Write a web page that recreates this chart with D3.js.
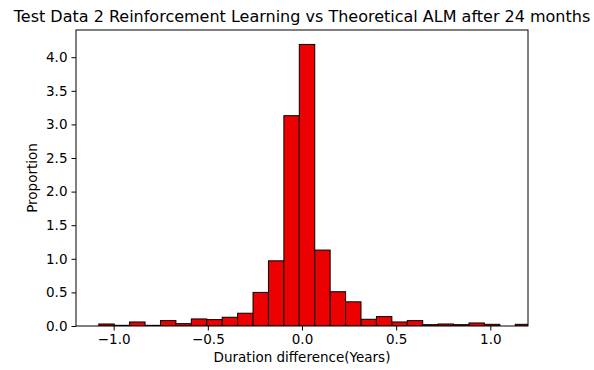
<!DOCTYPE html>
<html>
<head>
<meta charset="utf-8">
<script src="https://cdn.jsdelivr.net/npm/d3@7"></script>
<style>
  body { margin: 0; background: #fff; }
  svg { font-family: "DejaVu Sans", sans-serif; }
</style>
</head>
<body>
<div id="chart"></div>
<script>
// histogram bins: left edge of the first bin, bin width, proportion per bin
var binStart = -1.079;
var binWidth = 0.0819;
var proportions = [0.03, 0.01, 0.06, 0.01, 0.08, 0.035, 0.105, 0.095, 0.13, 0.19,
                   0.50, 0.97, 3.13, 4.19, 1.13, 0.51, 0.36, 0.10, 0.14, 0.06,
                   0.08, 0.02, 0.03, 0.02, 0.045, 0.025, 0.0, 0.025];
var xTicks = [-1.0, -0.5, 0.0, 0.5, 1.0];
var yTicks = [0, 0.5, 1.0, 1.5, 2.0, 2.5, 3.0, 3.5, 4.0];

var bins = proportions.map(function(p, i) {
    return { x0: binStart + i * binWidth, x1: binStart + (i + 1) * binWidth, value: p };
});

var width = 594, height = 370;
var margin = { top: 30, right: 66, bottom: 44, left: 76 };

var svg = d3.select('#chart')
    .append('svg')
    .attr('width', width)
    .attr('height', height);

var x = d3.scaleLinear()
    .domain([-1.2, 1.2])
    .range([margin.left, width - margin.right]);

var y = d3.scaleLinear()
    .domain([0, 4.405])
    .range([height - margin.bottom, margin.top]);

var fmt = function(d) { return d3.format('.1f')(d).replace('-', '\u2212'); };

svg.append('clipPath')
    .attr('id', 'plot-clip')
    .append('rect')
    .attr('x', margin.left)
    .attr('y', margin.top)
    .attr('width', width - margin.left - margin.right)
    .attr('height', height - margin.top - margin.bottom);

svg.append('g')
    .attr('clip-path', 'url(#plot-clip)')
    .selectAll('.bar')
    .data(bins)
    .enter()
    .append('rect')
    .classed('bar', true)
    .attr('x', function(d) { return x(d.x0); })
    .attr('y', function(d) { return y(d.value); })
    .attr('width', function(d) { return x(d.x1) - x(d.x0); })
    .attr('height', function(d) { return y(0) - y(d.value); })
    .attr('fill', '#ec0000')
    .attr('stroke', '#000')
    .attr('stroke-width', 1);

// axes
var xAxis = d3.axisBottom(x)
    .tickValues(xTicks)
    .tickFormat(fmt)
    .tickSizeOuter(0)
    .tickSize(4.5)
    .tickPadding(4);

var yAxis = d3.axisLeft(y)
    .tickValues(yTicks)
    .tickFormat(fmt)
    .tickSizeOuter(0)
    .tickSize(4.5)
    .tickPadding(4);

var gx = svg.append('g')
    .attr('transform', 'translate(0,' + (height - margin.bottom) + ')')
    .call(xAxis);

var gy = svg.append('g')
    .attr('transform', 'translate(' + margin.left + ',0)')
    .call(yAxis);

[gx, gy].forEach(function(g) {
    g.select('.domain').remove();
    g.selectAll('text').attr('font-size', 13.5).attr('fill', '#000')
        .attr('font-family', '"DejaVu Sans", sans-serif');
    g.selectAll('line').attr('stroke', '#000');
});

// frame
svg.append('rect')
    .attr('x', margin.left)
    .attr('y', margin.top)
    .attr('width', width - margin.left - margin.right)
    .attr('height', height - margin.top - margin.bottom)
    .attr('fill', 'none')
    .attr('stroke', '#000')
    .attr('stroke-width', 1);

svg.append('text')
    .attr('x', (margin.left + width - margin.right) / 2)
    .attr('y', 22)
    .attr('text-anchor', 'middle')
    .attr('font-size', 16)
    .text('Test Data 2 Reinforcement Learning vs Theoretical ALM after 24 months');

svg.append('text')
    .attr('x', (margin.left + width - margin.right) / 2)
    .attr('y', 362)
    .attr('text-anchor', 'middle')
    .attr('font-size', 13.5)
    .text('Duration difference(Years)');

svg.append('text')
    .attr('transform', 'translate(37,' + ((margin.top + height - margin.bottom) / 2) + ') rotate(-90)')
    .attr('text-anchor', 'middle')
    .attr('font-size', 13.5)
    .text('Proportion');
</script>
</body>
</html>
